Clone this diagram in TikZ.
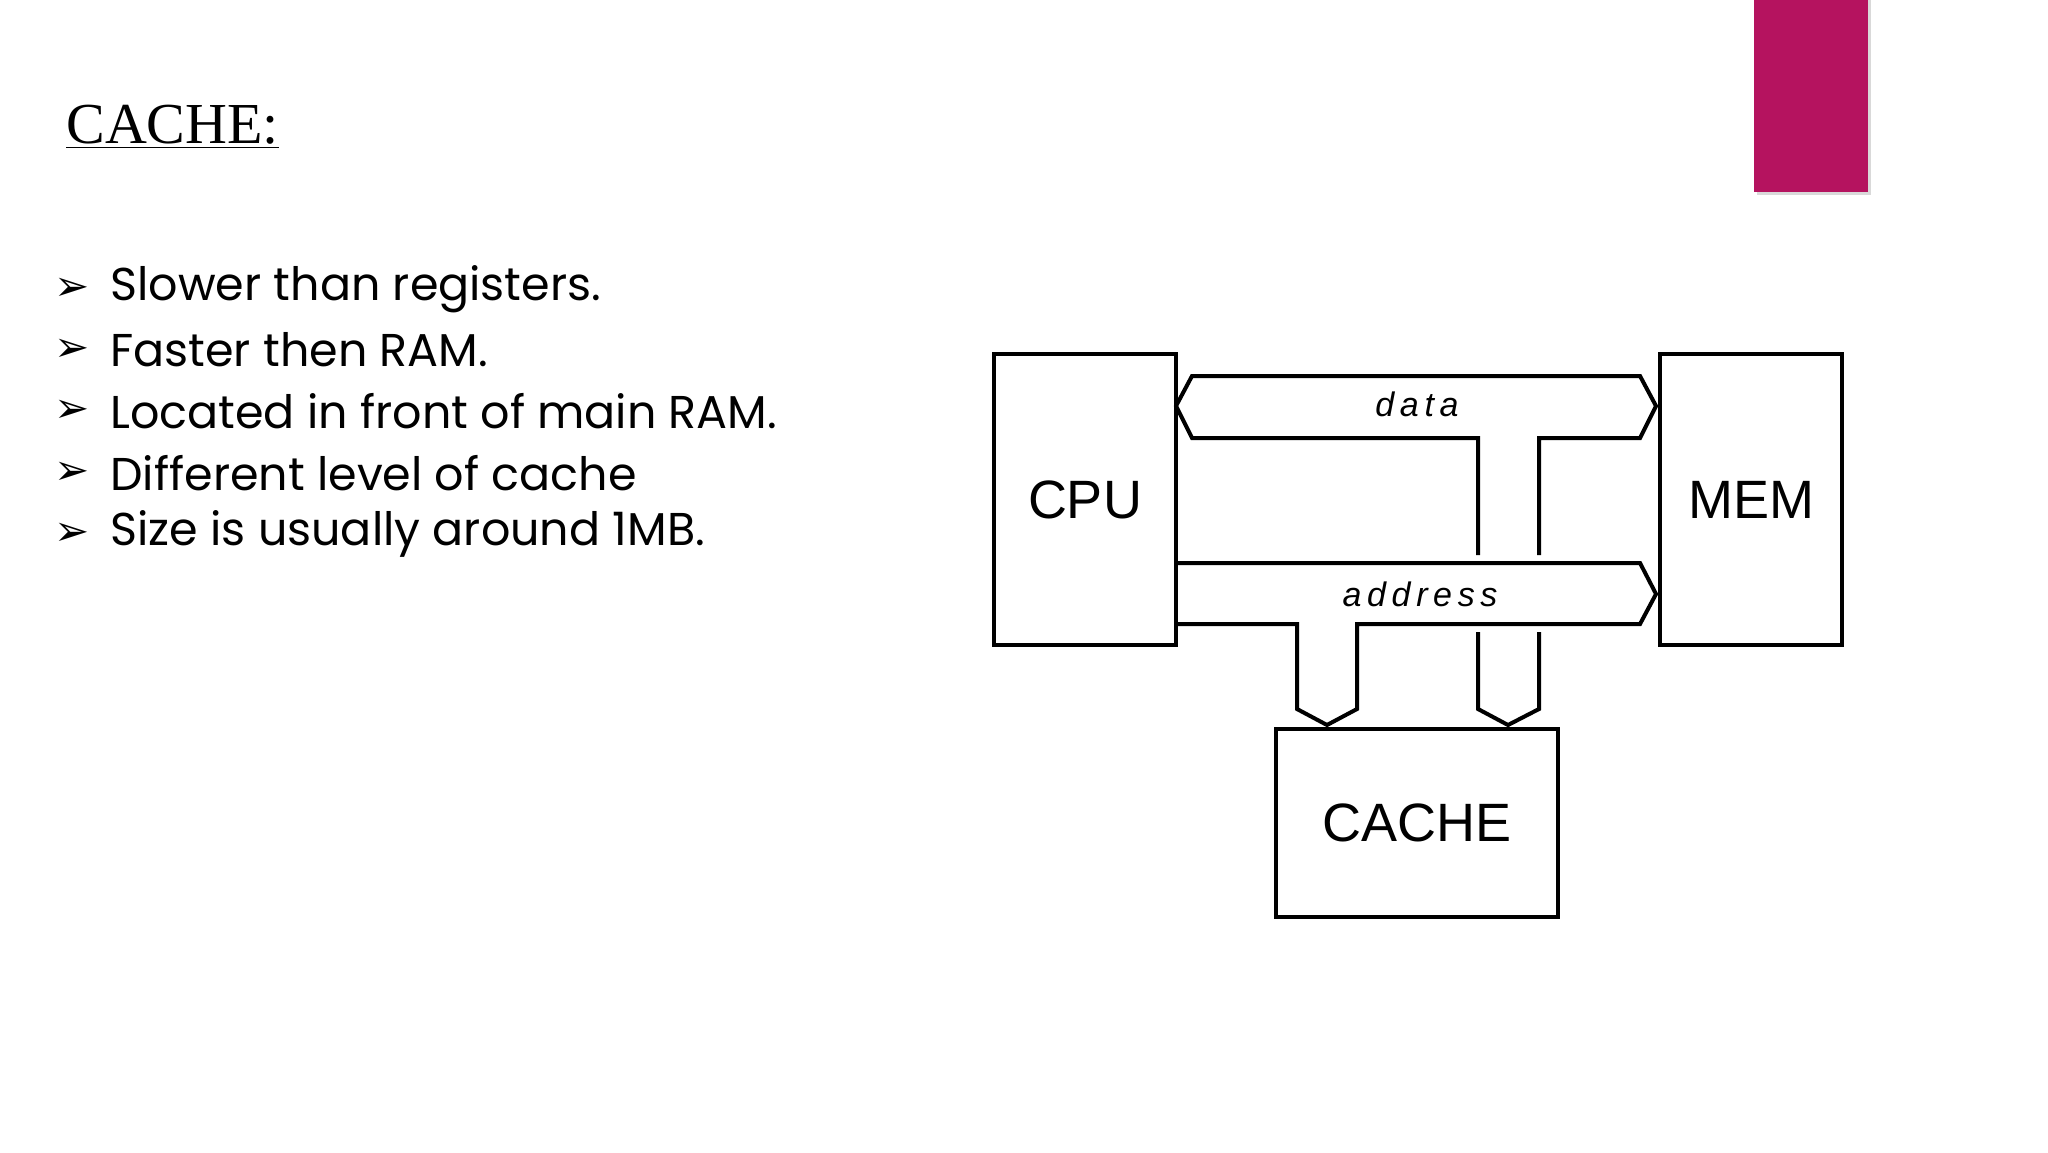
\documentclass[tikz,border=0pt]{standalone}
\usepackage{fontspec}
\setmainfont{Liberation Serif}
\newfontfamily\bodyf{Poppins}
\newfontfamily\arrf{DejaVu Sans}
\newfontfamily\diagf{Liberation Sans}
\begin{document}
\begin{tikzpicture}[x=0.5pt,y=-0.5pt,
  box/.style={draw,line width=2pt,inner sep=0,font=\diagf\fontsize{27}{30}\selectfont},
  bus/.style={line width=2pt,line join=miter},
  lbl/.style={font=\diagf\itshape\fontsize{17}{20}\selectfont},
  bl/.style={anchor=west,font=\bodyf\fontsize{23}{28}\selectfont,inner sep=0}]
\useasboundingbox (0,0) rectangle (2048,1152);
\fill[white] (0,0) rectangle (2048,1152);
\fill[black!15] (1757,0) rectangle (1871,195);
\fill[fill={rgb,255:red,181;green,19;blue,95}] (1754,0) rectangle (1868,192);
\node[anchor=west,inner sep=0,font=\fontsize{29}{34}\selectfont] (title) at (66,127) {\underline{CACHE:}};
\foreach \y/\t [count=\i] in {289/Slower than registers.,350/Faster then RAM.,411/Located in front of main RAM.,473/Different level of cache,534/Size is usually around 1MB.}{
  \node[anchor=west,inner sep=0,font=\arrf\fontsize{21}{24}\selectfont] (b\i) at (54,\y) {➢};
  \node[bl] (t\i) at (110,\y) {\t};
}
\node[box,minimum width=91pt,minimum height=145.5pt] (cpu) at (1085,499.5) {CPU};
\node[box,minimum width=91pt,minimum height=145.5pt] (mem) at (1751,499.5) {MEM};
\node[box,minimum width=141pt,minimum height=94pt] (cache) at (1417,823) {CACHE};
% data bus
\draw[bus] (1478,555) -- (1478,438) -- (1192,438) -- (1176,406) -- (1192,376) -- (1640,376) -- (1656,406) -- (1640,438) -- (1539,438) -- (1539,555);
\draw[bus] (1478,632) -- (1478,709) -- (1508,725) -- (1539,709) -- (1539,632);
% address bus
\draw[bus] (cpu.east |- 0,563) -- (1640,563) -- (1656,594) -- (1640,624) -- (1357,624) -- (1357,709) -- (1327,725) -- (1297,709) -- (1297,624) -- (cpu.east |- 0,624);
\node[lbl] (data) at (1417,404) {d\,a\,t\,a};
\node[lbl] (addr) at (1420,594) {a\,d\,d\,r\,e\,s\,s};
\end{tikzpicture}
\end{document}
